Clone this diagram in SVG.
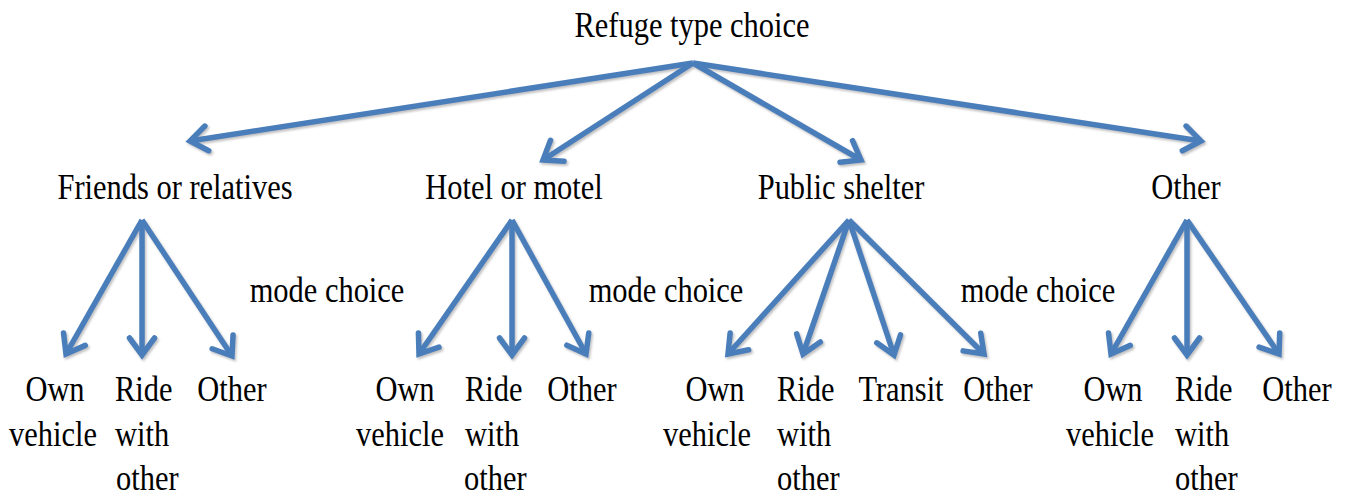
<svg xmlns="http://www.w3.org/2000/svg" width="1347" height="497" viewBox="0 0 1347 497">
<style>
text{font-family:"Liberation Serif","Times New Roman",serif;font-size:35px;fill:#000}
.m{text-anchor:middle}
.s{text-anchor:start}
.c line{stroke:#4a7ebb;stroke-width:5.5;fill:none;marker-end:url(#ah)}
</style>
<defs>
<marker id="ah" markerUnits="userSpaceOnUse" markerWidth="44" markerHeight="44" viewBox="-22 -22 44 44" refX="0" refY="0" orient="auto" overflow="visible">
<path d="M-17,-12.5 L0,0 L-17,12.5" fill="none" stroke="#4a7ebb" stroke-width="5.5" stroke-linejoin="miter" stroke-linecap="round"/>
</marker>
<filter id="sh" x="-10%" y="-10%" width="120%" height="120%">
<feDropShadow dx="1.5" dy="2" stdDeviation="1" flood-color="#777" flood-opacity="0.45"/>
</filter>
</defs>
<rect width="1347" height="497" fill="#fff"/>
<g id="connectors" class="c" filter="url(#sh)">
<line x1="693" y1="63" x2="190" y2="141"/>
<line x1="693" y1="63" x2="543" y2="160"/>
<line x1="693" y1="63" x2="861" y2="160"/>
<line x1="693" y1="63" x2="1201" y2="141"/>
<line x1="142" y1="220" x2="66" y2="354"/>
<line x1="142" y1="220" x2="142" y2="355"/>
<line x1="142" y1="220" x2="232" y2="356"/>
<line x1="512" y1="220" x2="419" y2="354"/>
<line x1="512" y1="220" x2="512" y2="355"/>
<line x1="512" y1="220" x2="586" y2="354"/>
<line x1="849" y1="220" x2="728" y2="354"/>
<line x1="849" y1="220" x2="803" y2="354"/>
<line x1="849" y1="220" x2="894" y2="355"/>
<line x1="849" y1="220" x2="984" y2="354"/>
<line x1="1187" y1="220" x2="1111" y2="354"/>
<line x1="1187" y1="220" x2="1187" y2="355"/>
<line x1="1187" y1="220" x2="1279" y2="354"/>
</g>
<g id="root"><text class="m" transform="translate(692,37) scale(0.87,1)">Refuge type choice</text></g>
<g id="friends"><text class="m" transform="translate(175,199) scale(0.87,1)">Friends or relatives</text></g>
<g id="hotel"><text class="m" transform="translate(514,199) scale(0.87,1)">Hotel or motel</text></g>
<g id="shelter"><text class="m" transform="translate(841,199) scale(0.87,1)">Public shelter</text></g>
<g id="other"><text class="m" transform="translate(1186,199) scale(0.87,1)">Other</text></g>
<g id="mode1"><text class="m" transform="translate(327,302) scale(0.87,1)">mode choice</text></g>
<g id="mode2"><text class="m" transform="translate(666,302) scale(0.87,1)">mode choice</text></g>
<g id="mode3"><text class="m" transform="translate(1038,302) scale(0.87,1)">mode choice</text></g>
<g id="f-own"><text class="m" transform="translate(55,401) scale(0.87,1)">Own</text><text class="m" transform="translate(53,446) scale(0.87,1)">vehicle</text></g>
<g id="f-ride"><text class="s" transform="translate(115,401) scale(0.87,1)">Ride</text><text class="s" transform="translate(115,446) scale(0.87,1)">with</text><text class="s" transform="translate(116,490) scale(0.87,1)">other</text></g>
<g id="f-other"><text class="m" transform="translate(232,401) scale(0.87,1)">Other</text></g>
<g id="h-own"><text class="m" transform="translate(405,401) scale(0.87,1)">Own</text><text class="m" transform="translate(400,446) scale(0.87,1)">vehicle</text></g>
<g id="h-ride"><text class="s" transform="translate(465,401) scale(0.87,1)">Ride</text><text class="s" transform="translate(465,446) scale(0.87,1)">with</text><text class="s" transform="translate(464,490) scale(0.87,1)">other</text></g>
<g id="h-other"><text class="m" transform="translate(582,401) scale(0.87,1)">Other</text></g>
<g id="p-own"><text class="m" transform="translate(715,401) scale(0.87,1)">Own</text><text class="m" transform="translate(707,446) scale(0.87,1)">vehicle</text></g>
<g id="p-ride"><text class="s" transform="translate(777,401) scale(0.87,1)">Ride</text><text class="s" transform="translate(777,446) scale(0.87,1)">with</text><text class="s" transform="translate(777,490) scale(0.87,1)">other</text></g>
<g id="p-transit"><text class="m" transform="translate(901,401) scale(0.87,1)">Transit</text></g>
<g id="p-other"><text class="m" transform="translate(998,401) scale(0.87,1)">Other</text></g>
<g id="o-own"><text class="m" transform="translate(1113,401) scale(0.87,1)">Own</text><text class="m" transform="translate(1110,446) scale(0.87,1)">vehicle</text></g>
<g id="o-ride"><text class="s" transform="translate(1175,401) scale(0.87,1)">Ride</text><text class="s" transform="translate(1175,446) scale(0.87,1)">with</text><text class="s" transform="translate(1175,490) scale(0.87,1)">other</text></g>
<g id="o-other"><text class="m" transform="translate(1297,401) scale(0.87,1)">Other</text></g>
</svg>
